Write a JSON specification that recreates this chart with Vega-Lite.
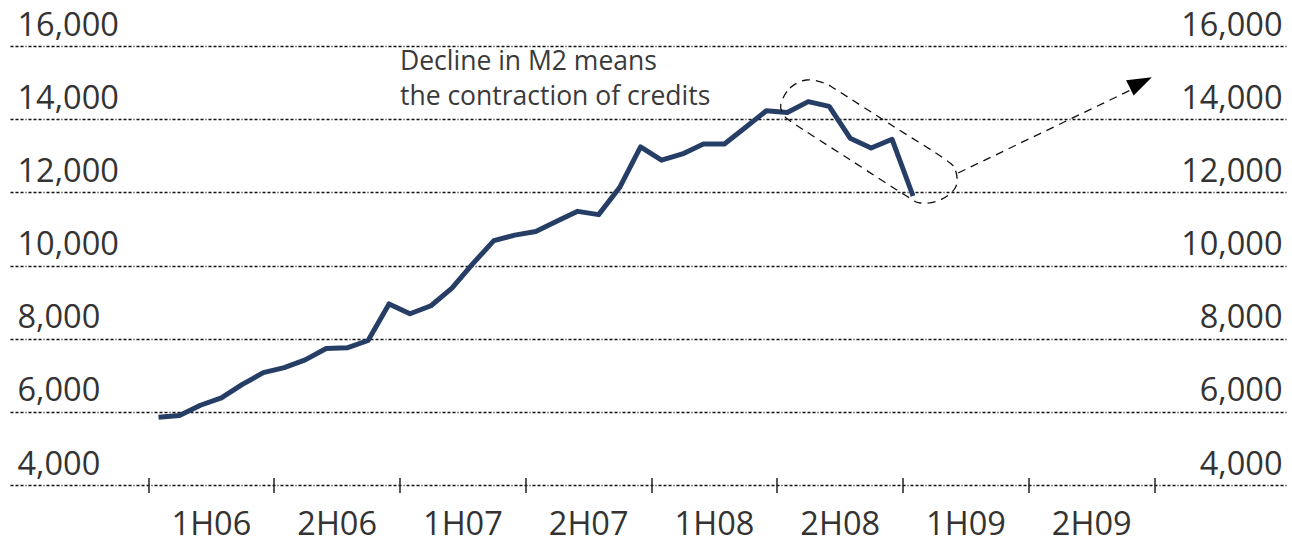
{
  "$schema": "https://vega.github.io/schema/vega-lite/v6.json",
  "width": 1278,
  "height": 439,
  "autosize": {"type": "none"},
  "padding": {"left": 10, "top": 46, "right": 4, "bottom": 60},
  "background": "white",
  "config": {
    "font": "Open Sans",
    "view": {"stroke": null},
    "axis": {"labelFont": "Open Sans", "labelColor": "#333333", "labelFontSize": 32.5}
  },
  "datasets": {
    "m2": [
      {"month": "2006-01", "t": 0.5, "v": 5850},
      {"month": "2006-02", "t": 1.5, "v": 5900},
      {"month": "2006-03", "t": 2.5, "v": 6180},
      {"month": "2006-04", "t": 3.5, "v": 6380},
      {"month": "2006-05", "t": 4.5, "v": 6750},
      {"month": "2006-06", "t": 5.5, "v": 7070},
      {"month": "2006-07", "t": 6.5, "v": 7210},
      {"month": "2006-08", "t": 7.5, "v": 7420},
      {"month": "2006-09", "t": 8.5, "v": 7730},
      {"month": "2006-10", "t": 9.5, "v": 7750},
      {"month": "2006-11", "t": 10.5, "v": 7950},
      {"month": "2006-12", "t": 11.5, "v": 8950},
      {"month": "2007-01", "t": 12.5, "v": 8680},
      {"month": "2007-02", "t": 13.5, "v": 8900},
      {"month": "2007-03", "t": 14.5, "v": 9380},
      {"month": "2007-04", "t": 15.5, "v": 10050},
      {"month": "2007-05", "t": 16.5, "v": 10680},
      {"month": "2007-06", "t": 17.5, "v": 10830},
      {"month": "2007-07", "t": 18.5, "v": 10930},
      {"month": "2007-08", "t": 19.5, "v": 11210},
      {"month": "2007-09", "t": 20.5, "v": 11480},
      {"month": "2007-10", "t": 21.5, "v": 11390},
      {"month": "2007-11", "t": 22.5, "v": 12130},
      {"month": "2007-12", "t": 23.5, "v": 13240},
      {"month": "2008-01", "t": 24.5, "v": 12880},
      {"month": "2008-02", "t": 25.5, "v": 13050},
      {"month": "2008-03", "t": 26.5, "v": 13320},
      {"month": "2008-04", "t": 27.5, "v": 13320},
      {"month": "2008-05", "t": 28.5, "v": 13770},
      {"month": "2008-06", "t": 29.5, "v": 14230},
      {"month": "2008-07", "t": 30.5, "v": 14180},
      {"month": "2008-08", "t": 31.5, "v": 14480},
      {"month": "2008-09", "t": 32.5, "v": 14350},
      {"month": "2008-10", "t": 33.5, "v": 13480},
      {"month": "2008-11", "t": 34.5, "v": 13210},
      {"month": "2008-12", "t": 35.5, "v": 13450},
      {"month": "2009-01", "t": 36.5, "v": 11900}
    ],
    "capsule": [
      {"i": 1, "t": 30.19, "v": 14415},
      {"i": 2, "t": 30.63, "v": 14852},
      {"i": 3, "t": 31.40, "v": 15071},
      {"i": 4, "t": 32.26, "v": 14989},
      {"i": 5, "t": 32.93, "v": 14770},
      {"i": 6, "t": 35.50, "v": 13827},
      {"i": 7, "t": 38.08, "v": 12884},
      {"i": 8, "t": 38.55, "v": 12556},
      {"i": 9, "t": 38.51, "v": 12118},
      {"i": 10, "t": 37.79, "v": 11790},
      {"i": 11, "t": 36.84, "v": 11708},
      {"i": 12, "t": 36.11, "v": 11927},
      {"i": 13, "t": 33.44, "v": 12911},
      {"i": 14, "t": 30.78, "v": 13895},
      {"i": 15, "t": 30.35, "v": 14114}
    ],
    "arrow": [
      {"t": 38.65, "v": 12529},
      {"t": 46.9, "v": 14800}
    ],
    "head": [
      {"t": 47.37, "v": 15002}
    ],
    "note": [
      {"t": 12.02, "v": 15344, "label": "Decline in M2 means"},
      {"t": 12.02, "v": 14387, "label": "the contraction of credits"}
    ]
  },
  "resolve": {"axis": {"y": "independent", "x": "independent"}},
  "layer": [
    {
      "data": {"name": "m2"},
      "mark": {"type": "line", "color": "#263E66", "strokeWidth": 5, "strokeJoin": "round"},
      "encoding": {
        "x": {
          "field": "t", "type": "quantitative",
          "scale": {"domain": [-6.585, 54.39], "nice": false, "zero": false},
          "axis": {
            "orient": "bottom",
            "title": null, "values": [0, 6, 12, 18, 24, 30, 36, 42, 48],
            "labelExpr": "datum.value == 0 ? '1H06' : datum.value == 6 ? '2H06' : datum.value == 12 ? '1H07' : datum.value == 18 ? '2H07' : datum.value == 24 ? '1H08' : datum.value == 30 ? '2H08' : datum.value == 36 ? '1H09' : datum.value == 42 ? '2H09' : ''",
            "grid": false, "domain": false, "ticks": true, "tickSize": 15, "tickWidth": 1.5, "tickColor": "#222222",
            "translate": -7, "tickOffset": 7.5, "labelOffset": 62.9, "labelPadding": 42, "labelBaseline": "alphabetic",
            "labelAlign": "center", "labelOverlap": false, "labelBound": false, "labelFlush": false
          }
        },
        "y": {
          "field": "v", "type": "quantitative",
          "scale": {"domain": [4000, 16000], "nice": false, "zero": false},
          "axis": {
            "title": null, "values": [4000, 6000, 8000, 10000, 12000, 14000, 16000], "format": ",.0f",
            "grid": true, "gridColor": "#111111", "gridWidth": 1.4, "gridDash": [3, 2, 3, 2, 3, 2, 1, 2],
            "domain": false, "ticks": false, "labelAlign": "left", "labelBaseline": "alphabetic",
            "labelPadding": -7, "labelOffset": -11, "labelOverlap": false, "labelBound": false, "labelFlush": false
          }
        }
      }
    },
    {
      "data": {"name": "capsule"},
      "mark": {"type": "line", "color": "#111111", "strokeWidth": 1.3, "strokeDash": [8, 6], "interpolate": "cardinal-closed"},
      "encoding": {
        "x": {"field": "t", "type": "quantitative", "scale": {"domain": [-6.585, 54.39], "nice": false, "zero": false}, "axis": null},
        "y": {
          "field": "v", "type": "quantitative",
          "scale": {"domain": [4000, 16000], "nice": false, "zero": false},
          "axis": {
            "orient": "right", "title": null, "values": [4000, 6000, 8000, 10000, 12000, 14000, 16000], "format": ",.0f",
            "grid": false, "domain": false, "ticks": false, "labelAlign": "right", "labelBaseline": "alphabetic",
            "labelPadding": -6, "labelOffset": -11, "labelOverlap": false, "labelBound": false, "labelFlush": false
          }
        },
        "order": {"field": "i", "type": "quantitative"}
      }
    },
    {
      "data": {"name": "arrow"},
      "mark": {"type": "line", "color": "#111111", "strokeWidth": 1.3, "strokeDash": [8, 6]},
      "encoding": {
        "x": {"field": "t", "type": "quantitative", "scale": {"domain": [-6.585, 54.39], "nice": false, "zero": false}, "axis": null},
        "y": {"field": "v", "type": "quantitative", "scale": {"domain": [4000, 16000], "nice": false, "zero": false}, "axis": null}
      }
    },
    {
      "data": {"name": "head"},
      "mark": {"type": "point", "shape": "M-1,-0.7L1,0L-1,0.7Z", "filled": true, "color": "#000000", "size": 600, "angle": 334, "opacity": 1},
      "encoding": {
        "x": {"field": "t", "type": "quantitative", "scale": {"domain": [-6.585, 54.39], "nice": false, "zero": false}, "axis": null},
        "y": {"field": "v", "type": "quantitative", "scale": {"domain": [4000, 16000], "nice": false, "zero": false}, "axis": null}
      }
    },
    {
      "data": {"name": "note"},
      "mark": {"type": "text", "align": "left", "baseline": "alphabetic", "font": "Open Sans", "fontSize": 26.5, "color": "#3a3a3a"},
      "encoding": {
        "x": {"field": "t", "type": "quantitative", "scale": {"domain": [-6.585, 54.39], "nice": false, "zero": false}, "axis": null},
        "y": {"field": "v", "type": "quantitative", "scale": {"domain": [4000, 16000], "nice": false, "zero": false}, "axis": null},
        "text": {"field": "label"}
      }
    }
  ]
}
